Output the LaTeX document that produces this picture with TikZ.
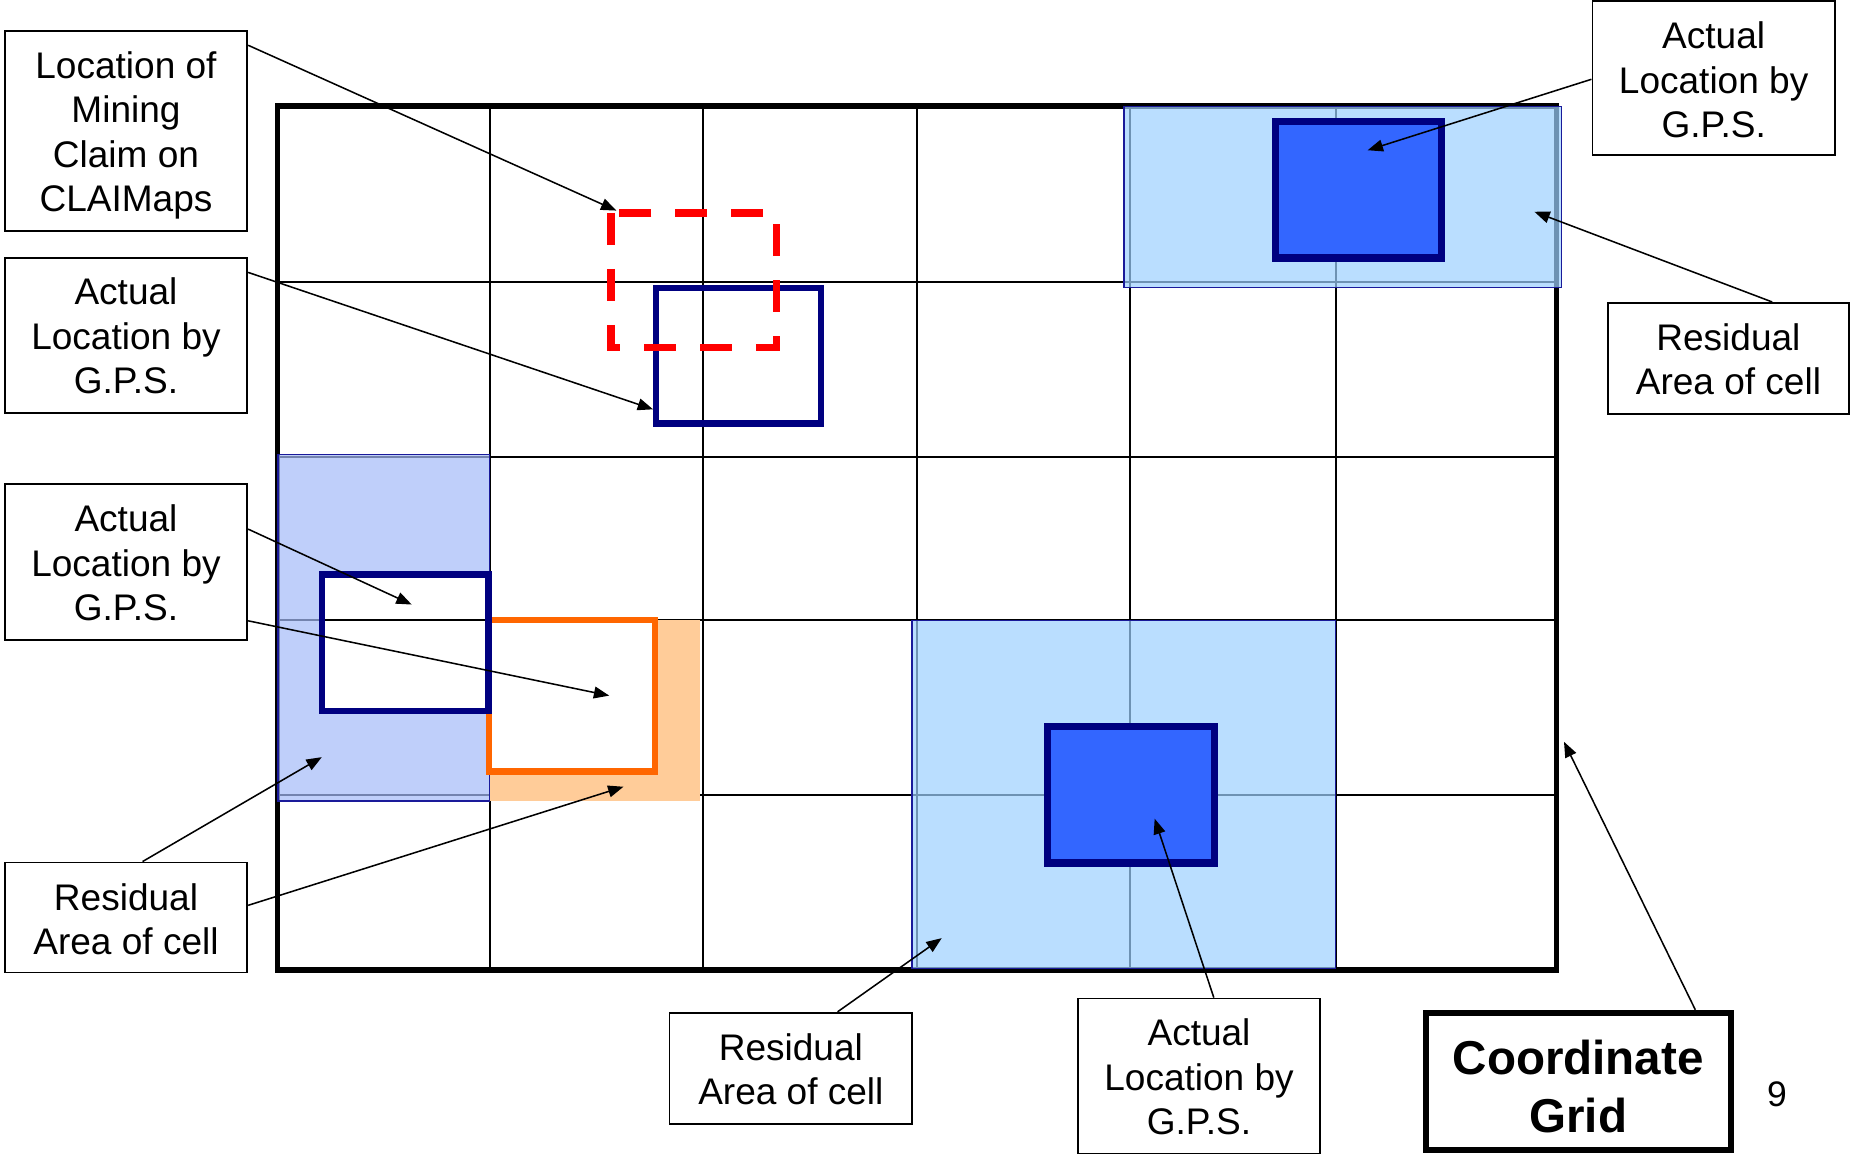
\documentclass[tikz,border=0pt]{standalone}
\usepackage{fontspec}
\setmainfont{Liberation Sans}
\usetikzlibrary{arrows.meta,calc}
\definecolor{navyb}{HTML}{000080}
\definecolor{shadeedge}{HTML}{1A1A9A}
\definecolor{dashred}{HTML}{FF0000}
\definecolor{gpsblue}{HTML}{3366FF}
\definecolor{skyshade}{HTML}{9ED0FF}
\definecolor{lavshade}{HTML}{A5BCF8}
\definecolor{peach}{HTML}{FFCC99}
\definecolor{orangeb}{HTML}{FF6600}
\begin{document}
\begin{tikzpicture}[x=1pt,y=-1pt,
  lbl/.style={draw=black, line width=1.5pt, fill=white, inner sep=0pt, minimum width=205pt},
  tx/.style={align=center, inner sep=0pt, font=\fontsize{31.3}{37.6}\selectfont},
  conn/.style={line width=1.3pt, -{Triangle[length=13pt,width=10pt]}},
  gridthin/.style={line width=1.8pt},
  gridthick/.style={line width=4.5pt},
  shade/.style={fill opacity=0.7},
  shadeline/.style={draw=shadeedge, line width=1.2pt},
  gpsbox/.style={draw=navyb, line width=5.5pt},
  gpsfilled/.style={draw=navyb, line width=6.2pt, fill=gpsblue},
  claimbox/.style={draw=dashred, line width=6pt, dash pattern=on 27pt off 20.3pt},
  orangebox/.style={draw=orangeb, line width=5.5pt, fill=white}
]
\useasboundingbox (0,0) rectangle (1568,975.5);
\fill[white] (0,0) rectangle (1568,975.5);

% grid
\foreach \gx in {414.4,594.5,775,955.3,1129}
  \draw[gridthin] (\gx,89.6) -- (\gx,820);
\foreach \gy in {238,386.6,524.3,672}
  \draw[gridthin] (234.3,\gy) -- (1315.7,\gy);
\draw[gridthick] (234.3,89.6) rectangle (1315.7,820);

% left residual area with GPS box hole
\fill[lavshade, shade, even odd rule] (235,384) rectangle (414,677) (272,485.5) rectangle (413,601);
\draw[shadeline] (235,384) rectangle (414,677);

% orange residual
\fill[peach] (414,524.4) rectangle (592,677);
\draw[orangebox] (413.5,524) rectangle (553.5,652);
\draw[gpsbox] (272,485.5) rectangle (413,601);

% top-right residual
\fill[skyshade, shade] (950,90) rectangle (1320,243);
\draw[shadeline] (950,90) rectangle (1320,243);
\draw[gpsfilled] (1078,102.5) rectangle (1218.5,218);

% bottom-middle residual
\fill[skyshade, shade] (771,524.6) rectangle (1129,818.8);
\draw[shadeline] (771,524.6) rectangle (1129,818.8);
\draw[gpsfilled] (885.5,614) rectangle (1026.5,729.5);

% claim vs actual
\draw[gpsbox] (554.4,243.5) rectangle (694,358);
\draw[claimbox] (516.5,180) -- (516.5,294) -- (656,294) -- (656,180) -- cycle;

% label boxes
\node[lbl, minimum height=169pt] (A) at (106.5,110.5) {};
\node[lbl, minimum height=131pt] (B) at (106.5,283.5) {};
\node[lbl, minimum height=132pt] (C) at (106.5,475) {};
\node[lbl, minimum height=93pt] (D) at (106.5,775.5) {};
\node[lbl, minimum height=94pt] (E) at (668.5,903) {};
\node[lbl, minimum height=131pt] (F) at (1013.5,909.5) {};
\node[lbl, line width=5pt, minimum width=258pt, minimum height=116pt] (G) at (1334,914) {};
\node[lbl, minimum height=130pt] (H) at (1448.5,66) {};
\node[lbl, minimum width=204pt, minimum height=94pt] (I) at (1461,303) {};

% label texts
\node[tx, yshift=-4pt] (At) at (A.center) {Location of\\Mining\\Claim on\\CLAIMaps};
\node[tx, yshift=-0.5pt] (Bt) at (B.center) {Actual\\Location by\\G.P.S.};
\node[tx, yshift=-1pt] (Ct) at (C.center) {Actual\\Location by\\G.P.S.};
\node[tx, yshift=-1.5pt] (Dt) at (D.center) {Residual\\Area of cell};
\node[tx, yshift=-1pt] (Et) at (E.center) {Residual\\Area of cell};
\node[tx, yshift=-1pt] (Ft) at (F.center) {Actual\\Location by\\G.P.S.};
\node[tx, yshift=-4pt, font=\fontsize{40.2}{49}\selectfont\bfseries] (Gt) at (G.center) {Coordinate\\Grid};
\node[tx, yshift=-1.5pt] (Ht) at (H.center) {Actual\\Location by\\G.P.S.};
\node[tx, yshift=-0.5pt] (It) at (I.center) {Residual\\Area of cell};
\node[font=\fontsize{30}{36}\selectfont, inner sep=0pt] (pg) at (1502,925) {9};

% arrow targets
\coordinate (tA) at (521,178);
\coordinate (tB) at (552,346);
\coordinate (tC1) at (348,511);
\coordinate (tC2) at (515,588);
\coordinate (tD1) at (272,640);
\coordinate (tD2) at (527,665);
\coordinate (tE) at (796,793);
\coordinate (tF) at (976,692);
\coordinate (tG) at (1322,627);
\coordinate (tH) at (1156,127);
\coordinate (tI) at (1297,179);

% connectors
\draw[conn] ([yshift=-13pt]A.north east) -- (tA);
\draw[conn] ([yshift=-13pt]B.north east) -- (tB);
\draw[conn] ([yshift=-39pt]C.north east) -- (tC1);
\draw[conn] ([yshift=17pt]C.south east) -- (tC2);
\draw[conn] ([xshift=14pt]D.north) -- (tD1);
\draw[conn] ([yshift=-37pt]D.north east) -- (tD2);
\draw[conn] ([xshift=39.5pt]E.north) -- (tE);
\draw[conn] ([xshift=12.5pt]F.north) -- (tF);
\draw[conn] ([xshift=99pt]G.north) -- (tG);
\draw[conn] ([yshift=-1pt]H.west) -- (tH);
\draw[conn] ([xshift=37pt]I.north) -- (tI);
\end{tikzpicture}
\end{document}
